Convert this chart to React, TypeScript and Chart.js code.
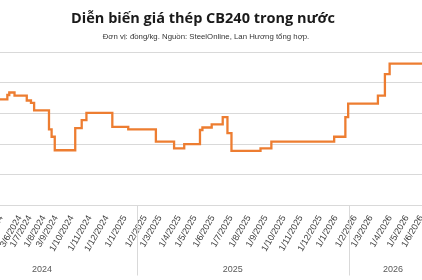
import { useEffect, useRef } from "react";
import { Chart, registerables } from "chart.js";

Chart.register(...registerables);

// Observation index (category position) where the price changes, and the new price (đồng/kg)
const stepIndex = [0, 4.2, 5.3, 8.3, 15.3, 17.7, 19.5, 28, 29.5, 31.3, 43, 46.7, 49.4, 64.2, 73.3, 89.1, 99.5, 105.3, 114.3, 115.7, 121, 127.3, 130, 132.3, 148.9, 155.1, 191, 197.4, 199, 216, 220, 222.7, 241.2];
const stepPrice = [14230, 14300, 14340, 14290, 14210, 14170, 14050, 13740, 13620, 13400, 13760, 13890, 14010, 13780, 13740, 13540, 13430, 13500, 13730, 13770, 13820, 13940, 13680, 13390, 13430, 13540, 13620, 13940, 14160, 14290, 14640, 14810, 14810];

// Category labels shown on the axis and their category positions
const tickLabels = ["2/5/2024", "3/6/2024", "1/7/2024", "1/8/2024", "3/9/2024", "1/10/2024", "1/11/2024", "1/12/2024", "1/1/2025", "1/2/2025", "1/3/2025", "1/4/2025", "1/5/2025", "1/6/2025", "1/7/2025", "1/8/2025", "1/9/2025", "1/10/2025", "1/11/2025", "1/12/2025", "1/1/2026", "1/2/2026", "1/3/2026", "1/4/2026", "1/5/2026", "1/6/2026"];
const tickIndex = [0.6, 11.4, 17.1, 25.1, 32, 41.1, 51.4, 61.1, 71.4, 82.9, 91.4, 102.3, 111.4, 121.7, 132, 142.3, 152, 162.3, 172, 182.9, 192, 202.9, 212, 222.9, 232.6, 240.9];

// Year grouping of the category axis
const yearNames = ["2024", "2025", "2026"];
const yearCenters = [24, 133, 224.6];
const yearBounds = [78.3, 199.4];

const TITLE = "Diễn biến giá thép CB240 trong nước";
const SUBTITLE = "Đơn vị: đồng/kg. Nguồn: SteelOnline, Lan Hương tổng hợp.";

const X_MAX = 241.2;
const Y_MIN = 12500;
const Y_MAX = 15000;
const Y_STEP = 500;

const yearPlugin = {
  id: "yearGroups",
  afterDraw(chart: any) {
    const { ctx, chartArea, scales } = chart;
    const x = scales.x;
    ctx.save();
    ctx.strokeStyle = "#d9d9d9";
    ctx.lineWidth = 1;
    yearBounds.forEach((b) => {
      const px = Math.round(x.getPixelForValue(b)) + 0.5;
      ctx.beginPath();
      ctx.moveTo(px, chartArea.bottom);
      ctx.lineTo(px, chartArea.bottom + 70);
      ctx.stroke();
    });
    ctx.fillStyle = "#595959";
    ctx.font = "9px 'Liberation Sans'";
    ctx.textAlign = "center";
    ctx.textBaseline = "middle";
    yearNames.forEach((n, i) => {
      ctx.fillText(n, x.getPixelForValue(yearCenters[i]), chartArea.bottom + 64);
    });
    ctx.restore();
  },
};

export default function App() {
  const ref = useRef<HTMLCanvasElement | null>(null);

  useEffect(() => {
    if (!ref.current) return;
    const data = stepIndex.map((x, i) => ({ x, y: stepPrice[i] }));
    const chart = new Chart(ref.current, {
      type: "line",
      data: {
        datasets: [
          {
            data,
            borderColor: "#ED7D31",
            borderWidth: 2.3,
            stepped: true,
            pointRadius: 0,
            fill: false,
          },
        ],
      },
      options: {
        animation: false,
        responsive: false,
        layout: { padding: { top: 52, left: 0, right: 0, bottom: 0 } },
        plugins: {
          legend: { display: false },
          tooltip: { enabled: false },
        },
        scales: {
          x: {
            type: "linear",
            min: 0,
            max: X_MAX,
            afterBuildTicks: (s: any) => {
              s.ticks = tickIndex.map((v) => ({ value: v }));
            },
            afterFit: (s: any) => {
              s.paddingLeft = 0;
              s.paddingRight = 0;
              s.height = 74.5;
            },
            grid: { display: false, drawTicks: false },
            border: { display: true, color: "#d9d9d9", width: 1 },
            ticks: {
              autoSkip: false,
              minRotation: 60,
              maxRotation: 60,
              padding: 8,
              color: "#404040",
              font: { family: "'Liberation Sans'", size: 9 },
              callback: (_v: any, i: number) => tickLabels[i],
            },
          },
          y: {
            min: Y_MIN,
            max: Y_MAX,
            ticks: { display: false, stepSize: Y_STEP },
            grid: { color: "#d9d9d9", drawTicks: false },
            border: { display: false },
          },
        },
      },
      plugins: [yearPlugin],
    });
    return () => chart.destroy();
  }, []);

  return (
    <div style={{ position: "fixed", left: 0, top: 0, width: 422, height: 280, background: "#fff" }}>
      <canvas ref={ref} width={422} height={280} style={{ display: "block" }} />
      <div
        style={{
          position: "absolute", left: 0, top: 8, width: 406, textAlign: "center",
          fontFamily: "'Open Sans'", fontWeight: 700, fontSize: 14.5, lineHeight: "20px", color: "#1a1a1a",
          whiteSpace: "nowrap",
        }}
      >
        {TITLE}
      </div>
      <div
        style={{
          position: "absolute", left: 0, top: 32, width: 412, textAlign: "center",
          fontFamily: "'Liberation Sans'", fontSize: 7.8, lineHeight: "10px", color: "#333333",
          whiteSpace: "nowrap",
        }}
      >
        {SUBTITLE}
      </div>
    </div>
  );
}
